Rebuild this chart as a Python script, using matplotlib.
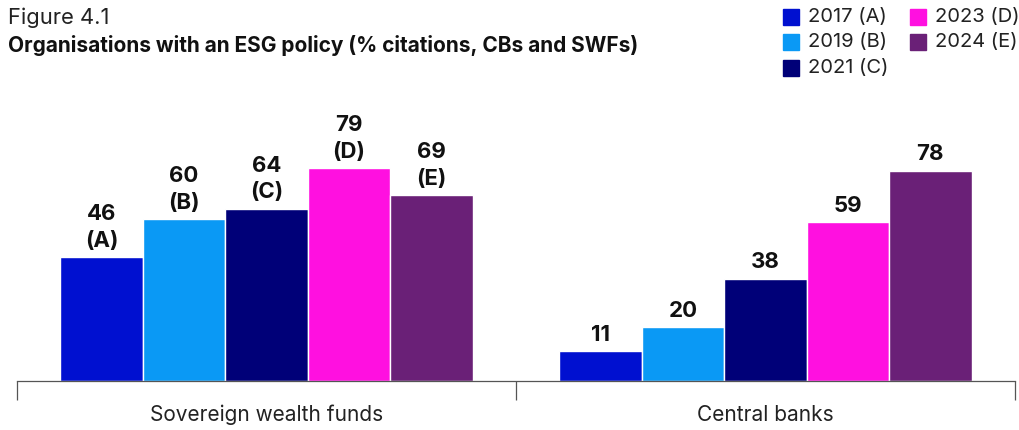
import numpy as np
import matplotlib
matplotlib.use("Agg")
from matplotlib import pyplot as plt
from matplotlib.patches import Rectangle

plt.rcParams['font.family'] = ['Inter', 'DejaVu Sans']

# data
groups = ['Sovereign wealth funds', 'Central banks']
years = ['2017 (A)', '2019 (B)', '2021 (C)', '2023 (D)', '2024 (E)']
letters = ['(A)', '(B)', '(C)', '(D)', '(E)']
swf = [46, 60, 64, 79, 69]
cb = [11, 20, 38, 59, 78]
colors = ['#0010d0', '#0a99f5', '#000078', '#ff10e0', '#6a2077']

fig = plt.figure(figsize=(10.2, 4.3), dpi=100)
ax = fig.add_axes([17/1020, 49/430, 998/1020, 291/430])

values = np.array([swf, cb])
w = 0.1652
x = np.arange(len(groups))
for i in range(len(years)):
    pos = x + (i - 2) * w
    ax.bar(pos, values[:, i], width=w, color=colors[i], edgecolor='white', linewidth=1, label=years[i])
    for j in range(len(groups)):
        v = values[j, i]
        if j == 0:
            txt = f"{v}\n{letters[i]}"
        else:
            txt = f"{v}"
        ax.text(pos[j], v + 2.4, txt, ha='center', va='bottom', fontsize=16,
                fontweight='bold', linespacing=1.4, color='#111111')

ax.set_xlim(-0.5, 1.5)
ax.set_ylim(0, 108)
ax.set_yticks([])
ax.set_xticks([-0.5, 0.5, 1.5])
ax.set_xticklabels([])
ax.tick_params(axis='x', length=14, width=0.9, color='#555555', direction='out')
for s in ['top', 'right', 'left']:
    ax.spines[s].set_visible(False)
ax.spines['bottom'].set_color('#555555')
ax.spines['bottom'].set_linewidth(0.9)
for j, g in enumerate(groups):
    ax.text(x[j], -12.6, g, ha='center', va='center', fontsize=15, color='#222222')

fig.text(8/1020, 1 - 18/430, 'Figure 4.1', ha='left', va='center', fontsize=15.8, color='#222222')
fig.text(8/1020, 1 - 45/430, 'Organisations with an ESG policy (% citations, CBs and SWFs)',
         ha='left', va='center', fontsize=15, fontweight='bold', color='#111111')

# legend
leg_pos = [(783, 17), (783, 42), (783, 68), (910, 17), (910, 42)]
for i, (lx, ly) in enumerate(leg_pos):
    fig.patches.append(Rectangle((lx/1020, 1 - (ly + 8)/430), 16/1020, 16/430,
                                 transform=fig.transFigure, color=colors[i]))
    fig.text((lx + 25)/1020, 1 - ly/430, years[i], ha='left', va='center',
             fontsize=14.5, color='#222222')

fig.savefig('out.png', dpi=100)
